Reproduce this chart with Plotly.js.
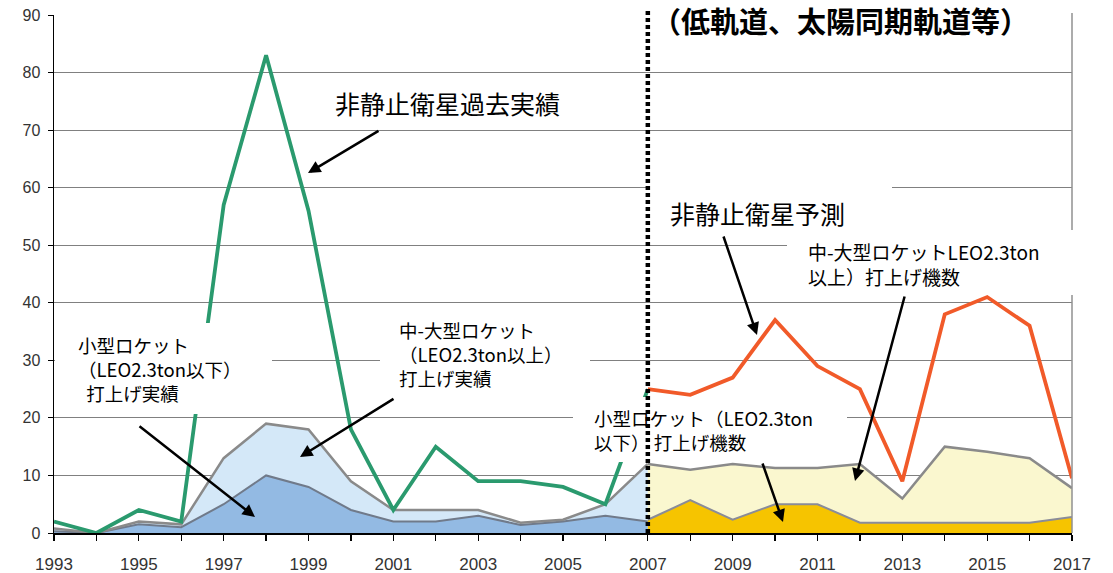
<!DOCTYPE html>
<html>
<head>
<meta charset="utf-8">
<script src="https://cdn.plot.ly/plotly-3.0.1.min.js"></script>
<style>
html,body{margin:0;padding:0;background:#fff;}
#chart{width:1113px;height:573px;}
</style>
</head>
<body>
<div id="chart"></div>
<script>
// ---- data ----
const histYears = [1993,1994,1995,1996,1997,1998,1999,2000,2001,2002,2003,2004,2005,2006,2007];
const smallActual    = [0.3,0,1.5,1,5,10,8,4,2,2,3,1.4,2,3,2];
const midLargeActual = [0.5,0,0.5,0.5,8,9,10,5,2,2,1,0.4,0.3,2,10];
const nonGeoActual   = [2,0,4,2,57,83,56,18,4,15,9,9,8,5,25];

const fcstYears = [2007,2008,2009,2010,2011,2012,2013,2014,2015,2016,2017];
const smallForecast    = [2.3,5.7,2.3,5,5,1.8,1.8,1.8,1.8,1.8,2.8];
const midLargeForecast = [9.7,5.3,9.7,6.3,6.3,10.2,4.2,13.2,12.3,11.2,5];
const nonGeoForecast   = [25,24,27,37,29,25,9,38,41,36,9.5];

const xTickStart = 1993, xTickStep = 2;
const yTickValues = [0,10,20,30,40,50,60,70,80,90];

const titleText = '（低軌道、太陽同期軌道等）';
const labelNonGeoActual = '非静止衛星過去実績';
const labelNonGeoForecast = '非静止衛星予測';
const labelMidLargeForecast = '中-大型ロケットLEO2.3ton<br>以上）打上げ機数';
const labelSmallForecast = '小型ロケット（LEO2.3ton<br>以下） 打上げ機数';
const labelMidLargeActual = '中-大型ロケット<br>（LEO2.3ton以上）<br>打上げ実績';
const labelSmallActual = '小型ロケット<br>（LEO2.3ton以下）<br>&nbsp;&nbsp;打上げ実績';

// ---- geometry helpers (pixel -> paper) ----
const ML = 54, MR = 41, MT = 15, MB = 40, W = 1113, H = 573;
const PW = W - ML - MR, PH = H - MT - MB;
const px = x => (x - ML) / PW;
const py = y => (MT + PH - y) / PH;

const JP = '"Noto Sans CJK JP", "Noto Sans", sans-serif';

function box(x0, y0, x1, y1) {
  return {type:'rect', xref:'paper', yref:'paper', x0:px(x0), x1:px(x1), y0:py(y1), y1:py(y0),
          fillcolor:'#ffffff', line:{width:0}, layer:'above'};
}
function label(text, x, y, size, bold) {
  return {xref:'paper', yref:'paper', x:px(x), y:py(y), xanchor:'left', yanchor:'middle',
          text: bold ? '<b>' + text + '</b>' : text, showarrow:false, align:'left',
          font:{family:JP, size:size, color:'#000'}};
}
function arrow(tx, ty, hx, hy) {
  return {xref:'paper', yref:'paper', x:px(hx), y:py(hy), ax:tx - hx, ay:ty - hy,
          axref:'pixel', ayref:'pixel', text:'', showarrow:true, arrowhead:2, arrowsize:1,
          arrowwidth:2.5, arrowcolor:'#000', standoff:0};
}

const traces = [
  {x:histYears, y:smallActual, stackgroup:'hist', mode:'lines', fillcolor:'#93BAE3',
   line:{color:'#707a8a', width:2}, hoverinfo:'skip'},
  {x:histYears, y:midLargeActual, stackgroup:'hist', mode:'lines', fillcolor:'#D4E8F8',
   line:{color:'#8a8a8a', width:2.5}, hoverinfo:'skip'},
  {x:fcstYears, y:smallForecast, stackgroup:'fcst', mode:'lines', fillcolor:'#F6C400',
   line:{color:'#8a8c98', width:2}, hoverinfo:'skip'},
  {x:fcstYears, y:midLargeForecast, stackgroup:'fcst', mode:'lines', fillcolor:'#FAF7CF',
   line:{color:'#8a8a8a', width:2.5}, hoverinfo:'skip'},
  {x:histYears, y:nonGeoActual, mode:'lines', line:{color:'#2A9A6E', width:3.8}, hoverinfo:'skip'},
  {x:fcstYears, y:nonGeoForecast, mode:'lines', line:{color:'#F15A29', width:3.8}, hoverinfo:'skip'}
];

const tickFont = {family:'"Liberation Sans", Arial, sans-serif', color:'#333'};

const shapes = [
  {type:'line', xref:'paper', yref:'paper', x0:1, x1:1, y0:0, y1:py(13),
   line:{color:'#909090', width:1.5}, layer:'above'},
  box(651, -5, 1066, 45),
  box(302, 75, 605, 128),
  box(650, 185, 892, 230),
  box(787, 230, 1078, 295),
  box(573, 397, 847, 462),
  box(380, 312, 590, 400),
  box(55, 323, 272, 414),
  {type:'line', xref:'x', yref:'paper', x0:fcstYears[0], x1:fcstYears[0], y0:0, y1:py(8),
   line:{color:'#000', width:4.5, dash:'4px,3px'}, layer:'above'}
];

const annotations = [
  label(titleText, 650, 20, 29, true),
  label(labelNonGeoActual, 333, 103, 25),
  label(labelNonGeoForecast, 668, 213, 25),
  label(labelMidLargeForecast, 806, 264, 19),
  label(labelSmallForecast, 592, 430, 18.5),
  label(labelMidLargeActual, 397, 354, 18.5),
  label(labelSmallActual, 76, 369, 18.5),
  arrow(380, 130, 308, 173),
  arrow(723, 235, 757, 335),
  arrow(905, 295, 855, 481),
  arrow(762, 462, 783, 522),
  arrow(395, 398, 300, 457),
  arrow(138, 425, 255, 517)
];

const layout = {
  width:W, height:H, margin:{l:ML, r:MR, t:MT, b:MB, pad:0},
  paper_bgcolor:'#fff', plot_bgcolor:'#fff', showlegend:false,
  xaxis:{range:[histYears[0], fcstYears[fcstYears.length-1]], tickmode:'linear', tick0:xTickStart, dtick:xTickStep,
         ticks:'outside', ticklen:6, tickcolor:'#000', tickwidth:1.2,
         showline:true, linecolor:'#000', linewidth:1.5, showgrid:false, zeroline:false,
         tickfont:Object.assign({size:17}, tickFont), ticklabelstandoff:9,
         minor:{dtick:1, tick0:xTickStart, ticks:'outside', ticklen:6, tickcolor:'#000', tickwidth:1.2, showgrid:false}},
  yaxis:{range:[yTickValues[0], yTickValues[yTickValues.length-1]], tickmode:'array', tickvals:yTickValues,
         ticks:'outside', ticklen:5, tickcolor:'#000',
         showline:true, linecolor:'#000', linewidth:1.5, gridcolor:'#808080', gridwidth:1, zeroline:false,
         tickfont:Object.assign({size:16}, tickFont), ticklabelstandoff:4},
  shapes:shapes,
  annotations:annotations
};

Plotly.newPlot('chart', traces, layout, {staticPlot:true, displayModeBar:false});
</script>
</body>
</html>
